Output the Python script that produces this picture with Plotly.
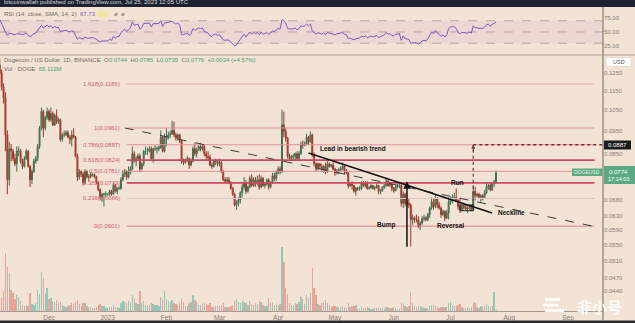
import math
import pandas as pd
import plotly.graph_objects as go

# ---------------- data (prices in units of 0.0001 USD) ----------------
START = "2022-11-05"
OPEN = [
    1300,1250,1170,1110,930,750,870,860,830,810,860,860,820,800,830,860,800,750,780,820,830,880,960,1040,960,1010,
    1040,1000,1030,975,1020,990,1000,910,930,930,940,920,910,930,920,840,760,780,770,740,780,760,760,770,770,760,740,715,690,700,700,
    700,700,710,700,730,710,720,720,750,770,780,760,780,790,850,820,830,840,790,810,860,860,860,870,830,870,870,870,875,920,860,
    910,920,930,935,950,930,915,930,905,820,815,825,830,805,820,870,850,865,880,870,880,850,840,835,805,800,820,820,
    810,815,780,750,745,750,740,720,700,665,670,680,705,725,740,710,725,755,730,750,740,750,725,755,730,735,750,725,740,765,755,
    775,790,780,975,945,915,840,830,835,840,850,830,850,890,885,890,920,900,930,845,810,790,810,800,790,800,780,810,800,805,
    790,775,785,785,790,800,780,775,730,735,730,710,720,718,720,740,730,740,720,722,730,720,722,730,710,712,722,730,745,730,735,
    720,712,725,728,730,670,700,670,670,665,620,625,620,620,600,610,622,625,620,635,655,675,660,685,665,655,635,645,625,640,
    675,685,690,690,680,660,650,660,658,652,655,660,650,710,695,700,690,695,690,705,725,730,715,735,744,
]
HIGH = [
    1340,1270,1190,1140,950,900,890,870,850,880,880,870,830,840,870,865,805,790,830,840,890,970,1060,1050,1020,1060,
    1050,1060,1040,1030,1050,1010,1005,940,950,950,950,930,950,960,925,850,790,785,780,790,785,770,780,775,772,765,745,720,705,705,710,
    705,715,715,740,735,725,728,760,785,790,785,800,800,880,860,840,850,850,815,865,880,875,880,880,875,885,880,885,950,925,935,
    960,945,950,995,990,940,935,935,910,830,830,840,835,830,880,895,875,885,895,890,890,860,860,845,815,825,830,825,
    830,820,785,760,760,760,745,725,705,680,690,710,735,760,750,730,765,770,760,760,765,770,765,760,740,755,755,745,775,775,785,
    800,800,1050,1040,960,920,850,845,850,855,860,860,900,905,900,935,925,945,935,855,815,815,812,810,805,815,820,815,810,815,
    795,790,795,800,815,805,790,778,740,745,732,725,725,728,745,745,745,745,728,735,732,728,740,732,718,728,735,755,750,740,738,
    725,730,735,740,735,710,705,680,685,670,635,630,635,630,615,630,635,630,640,660,690,685,700,690,675,660,650,648,650,690,
    690,700,705,720,682,685,665,665,665,662,665,665,730,725,705,705,700,700,715,740,735,740,740,750,785,
]
LOW = [
    1240,1150,1080,860,700,730,820,820,800,780,840,810,790,795,825,795,725,735,775,810,820,870,950,920,950,1000,
    990,990,970,970,980,980,900,900,920,925,915,890,880,915,835,745,750,760,730,735,755,745,755,762,755,735,710,680,675,660,690,
    695,695,695,700,705,700,715,715,745,760,750,755,770,785,815,800,825,780,785,800,845,845,855,825,815,860,850,860,870,855,855,
    880,910,915,930,920,905,905,895,810,805,810,815,790,800,815,840,835,860,860,860,840,820,825,800,790,795,805,800,
    800,775,745,740,740,735,715,695,660,650,660,670,690,715,700,705,720,725,725,725,730,715,720,725,720,730,715,720,735,745,745,
    770,770,775,920,900,830,820,825,820,825,825,820,845,870,880,885,885,895,835,800,780,785,790,780,775,770,775,795,795,785,
    765,770,770,780,785,770,770,720,725,715,705,695,712,712,715,725,722,715,715,718,715,712,720,700,700,708,718,725,725,725,710,
    705,710,720,720,660,655,660,660,655,545,605,610,612,595,590,605,615,615,615,625,650,650,655,655,650,625,630,615,622,620,
    665,670,680,675,650,640,645,650,648,640,650,645,645,680,690,685,675,680,688,700,715,710,712,725,735,
]
CLOSE = [
    1250,1170,1110,930,750,870,860,830,810,860,860,820,800,830,860,800,750,780,820,830,880,960,1040,960,1010,1040,
    1000,1030,975,1020,990,1000,910,930,930,940,920,910,930,920,840,760,780,770,740,780,760,760,770,770,760,740,715,690,700,700,700,
    700,710,700,730,710,720,720,750,770,780,760,780,790,850,820,830,840,790,810,860,860,860,870,830,870,870,870,875,920,860,910,
    920,930,935,950,930,915,930,905,820,815,825,830,805,820,870,850,865,880,870,880,850,840,835,805,800,820,820,810,
    815,780,750,745,750,740,720,700,665,670,680,705,725,740,710,725,755,730,750,740,750,725,755,730,735,750,725,740,765,755,775,
    790,780,975,945,915,840,830,835,840,850,830,850,890,885,890,920,900,930,845,810,790,810,800,790,800,780,810,800,805,790,
    775,785,785,790,800,780,775,730,735,730,710,720,718,720,740,730,740,720,722,730,720,722,730,710,712,722,730,745,730,735,720,
    712,725,728,730,670,700,670,670,665,620,625,620,620,600,610,622,625,620,635,655,675,660,685,665,655,635,645,625,640,675,
    685,690,690,680,660,650,660,658,652,655,660,650,710,695,700,690,695,690,705,725,730,715,735,744,776,
]
VOLUME_M = [
    1400,1300,2000,5800,4400,3800,2100,1800,1200,1600,1400,1000,600,500,600,500,1800,700,600,800,2100,1700,3900,3300,1800,2300,
    1200,1300,1000,900,1100,800,900,600,500,400,500,600,800,700,900,1100,700,500,800,800,500,400,400,300,300,400,600,700,500,500,300,
    300,400,400,600,400,400,300,800,1000,900,800,1000,900,1600,1200,800,700,2000,800,1000,600,500,600,800,700,600,600,500,1400,1200,2000,
    1200,1000,900,1100,800,700,600,800,1300,900,500,500,800,900,1600,1100,900,600,600,700,800,700,600,800,400,400,500,500,
    500,600,800,400,400,400,500,600,1000,1200,900,800,1000,900,800,600,1000,700,600,800,700,1000,900,600,500,500,1300,800,900,600,700,
    600,700,6400,4900,2300,1700,800,600,600,800,700,900,1400,1200,700,1600,1300,1800,4300,2300,1600,700,600,800,900,1100,800,600,400,500,
    500,400,400,400,500,400,300,800,400,500,500,600,200,200,400,300,300,400,300,200,200,300,300,400,300,300,200,400,400,300,300,
    400,300,200,200,800,700,500,400,500,1900,800,500,400,500,500,400,300,300,300,500,600,600,500,400,300,400,400,400,400,800,
    900,600,500,500,600,700,400,300,300,400,300,400,900,800,400,300,500,400,500,700,500,400,500,1900,65.112,
]
RSI = [
    72,64,58,50,44,48,47,46,45,47,47,46,45,46,48,45,41,44,47,48,52,57,62,57,60,62,
    59,61,57,60,58,58,51,52,52,53,51,50,52,51,44,37,40,39,37,41,39,39,40,40,39,37,34,32,34,34,34,
    34,37,35,42,39,42,42,49,53,55,51,55,57,68,62,63,64,55,58,65,65,65,66,59,65,65,65,65,70,60,66,
    67,68,68,69,66,64,66,62,46,45,47,48,44,47,56,53,55,57,56,57,51,49,48,43,42,46,46,44,
    45,40,36,35,36,35,32,29,25,27,31,37,42,46,41,45,50,46,49,47,49,45,50,46,47,49,46,48,52,51,54,
    56,55,72,70,66,56,55,55,56,57,54,56,61,60,61,64,61,64,52,48,46,49,48,46,48,45,49,48,48,47,
    45,47,47,48,49,46,45,38,39,38,36,38,38,39,43,41,43,40,41,43,41,42,44,40,41,43,45,49,46,47,44,
    43,46,47,47,35,43,38,38,37,30,31,31,31,28,31,34,35,34,38,44,50,47,53,48,46,42,45,41,45,56,
    59,60,59,56,49,47,49,49,48,48,50,48,61,57,58,56,57,56,59,63,64,60,64,65,67.73,
]
N = len(CLOSE)
assert len(OPEN) == N and len(HIGH) == N and len(LOW) == N and len(VOLUME_M) == N and len(RSI) == N

MONTH_TICKS = ["2022-12-01", "2023-01-01", "2023-02-01", "2023-03-01", "2023-04-01",
               "2023-05-01", "2023-06-01", "2023-07-01", "2023-08-01", "2023-09-01"]
MONTH_LABELS = ["Dec", "2023", "Feb", "Mar", "Apr", "May", "Jun", "Jul", "Aug", "Sep"]
PRICE_TICKS = [0.1250, 0.1150, 0.1050, 0.0950, 0.0850, 0.0680, 0.0630, 0.0590,
               0.0550, 0.0510, 0.0470, 0.0440]
RSI_TICKS = [25, 50, 75]

FIB_RATIOS = ["1.618", "1", "0.786", "0.618", "0.5", "0.382", "0.236", "0"]
FIB_PRICES = [0.1186, 0.0961, 0.0887, 0.0824, 0.0781, 0.0739, 0.0686, 0.0601]

# ---------------- geometry helpers ----------------
W, H = 635, 323
PW = 603  # plot width (right axis strip = 32 px)


def px(x):
    return x / PW


def py(y):
    return 1 - y / H


FONT = "Liberation Sans, Arial, sans-serif"
BG = "#f3e3d4"
GRAY = "#6f6a66"
GREEN = "#3f9f7c"

dates = pd.date_range(START, periods=N, freq="D")
o = [v / 1e4 for v in OPEN]
h = [v / 1e4 for v in HIGH]
l = [v / 1e4 for v in LOW]
c = [v / 1e4 for v in CLOSE]
vol_colors = ["rgba(38,166,154,0.45)" if cc >= oo else "rgba(239,83,80,0.45)" for oo, cc in zip(o, c)]

fig = go.Figure()
fig.add_trace(go.Bar(x=dates, y=VOLUME_M, marker=dict(color=vol_colors, line=dict(width=0)),
                     width=0.72 * 86400000, xaxis="x", yaxis="y", showlegend=False, hoverinfo="skip"))
fig.add_trace(go.Candlestick(x=dates, open=o, high=h, low=l, close=c, xaxis="x", yaxis="y3",
                             increasing=dict(line=dict(color="#3d6f4d", width=1), fillcolor="#5c9e70"),
                             decreasing=dict(line=dict(color="#a0352c", width=1), fillcolor="#c94b40"),
                             whiskerwidth=0, showlegend=False))
fig.add_trace(go.Scatter(x=dates, y=RSI, xaxis="x", yaxis="y2", mode="lines",
                         line=dict(color="#7e57c2", width=1), showlegend=False))

X0, X1 = "2022-11-05 03:00", "2023-09-19 12:00"
shapes = []
ann = []


def ptext(x, y, text, font, xanchor="center"):
    ann.append(dict(xref="paper", yref="paper", x=px(x), y=py(y), xanchor=xanchor, yanchor="middle",
                    text=text, showarrow=False, font=font))


# frame / panes
shapes.append(dict(type="rect", xref="paper", yref="paper", x0=0, x1=W / PW, y0=py(7), y1=1.0,
                   fillcolor="#1e2130", line=dict(width=0), layer="above"))
shapes.append(dict(type="rect", xref="paper", yref="paper", x0=0, x1=W / PW, y0=0, y1=py(320.5),
                   fillcolor="#2a2a2e", line=dict(width=0), layer="above"))
shapes.append(dict(type="line", xref="paper", yref="paper", x0=1, x1=1, y0=py(320), y1=py(7),
                   line=dict(color="#6e6660", width=1)))
shapes.append(dict(type="line", xref="paper", yref="paper", x0=0, x1=W / PW, y0=py(55), y1=py(55),
                   line=dict(color="#a49a92", width=1)))

# RSI band and levels
shapes.append(dict(type="rect", xref="paper", yref="y2", x0=0, x1=1, y0=30, y1=70,
                   fillcolor="rgba(150,110,200,0.09)", line=dict(width=0), layer="below"))
for lvl in (70, 50, 30):
    shapes.append(dict(type="line", xref="paper", yref="y2", x0=0, x1=1, y0=lvl, y1=lvl,
                       line=dict(color="#a8999f", width=0.8, dash="dash"), layer="below"))

# Fibonacci levels
FIB_X0, FIB_X1 = "2023-01-11", "2023-09-15"
fib_styles = [("#eaa6ae", 1), ("#e3909b", 1), ("#e3909b", 1), ("#c94a62", 1.6),
              ("#e3909b", 1), ("#c94a62", 1.6), ("#dac4c1", 1), ("#e0808c", 1)]
for ratio, price, (col, wd) in zip(FIB_RATIOS, FIB_PRICES, fib_styles):
    shapes.append(dict(type="line", xref="x", yref="y3", x0=FIB_X0, x1=FIB_X1, y0=price, y1=price,
                       line=dict(color=col, width=wd)))
    ann.append(dict(xref="x", yref="y3", x=FIB_X0, y=math.log10(price), xanchor="right", yanchor="middle",
                    xshift=-5, text=f"{ratio}({price:.4f})", showarrow=False,
                    font=dict(size=6, color="#d4606f", family=FONT)))

# trend lines
shapes.append(dict(type="line", xref="x", yref="y3", x0="2023-01-10", y0=0.0961, x1="2023-09-14", y1=0.0601,
                   line=dict(color="#3a3a3a", width=1, dash="dash")))
shapes.append(dict(type="line", xref="x", yref="y3", x0="2023-04-17", y0=0.0853, x1="2023-07-23", y1=0.0640,
                   line=dict(color="#111111", width=1.5)))
# run projection
shapes.append(dict(type="line", xref="x", yref="y3", x0="2023-07-13", y0=0.0659, x1="2023-07-13", y1=0.0887,
                   line=dict(color="#6a3a3c", width=1.2, dash="dot")))
shapes.append(dict(type="line", xref="x", yref="y3", x0="2023-07-13", y0=0.0887, x1=X1, y1=0.0887,
                   line=dict(color="#7a2f38", width=1.3, dash="dot")))
shapes.append(dict(type="rect", xref="x", yref="y3", x0="2023-07-06", x1="2023-07-13", y0=0.0647, y1=0.0665,
                   line=dict(color="#222222", width=1)))

# arrows
ann.append(dict(xref="x", yref="y3", x="2023-06-08", y=math.log10(0.0745), ax=0, ay=67, text="",
                showarrow=True, arrowhead=2, arrowsize=1, arrowwidth=1.5, arrowcolor="#111111"))
ann.append(dict(xref="x", yref="y3", x="2023-07-13", y=math.log10(0.0887), ax=0, ay=8, text="",
                showarrow=True, arrowhead=2, arrowsize=0.8, arrowwidth=1, arrowcolor="#6a3a3c"))

bold = dict(size=6.5, color="#111111", family=FONT)
for txt, xd, yv, anchor in [("<b>Lead in bearish trend</b>", "2023-04-22", 0.0873, "left"),
                            ("<b>Run</b>", "2023-07-04 12:00", 0.0740, "center"),
                            ("<b>Neckline</b>", "2023-07-25", 0.0640, "left"),
                            ("<b>Reversal</b>", "2023-07-01", 0.0603, "center"),
                            ("<b>Bump</b>", "2023-05-28", 0.0603, "center")]:
    ann.append(dict(xref="x", yref="y3", x=xd, y=math.log10(yv), xanchor=anchor, yanchor="middle",
                    text=txt, showarrow=False, font=bold))

# legends / header texts
small = dict(size=6, color=GRAY, family=FONT)
ptext(2, 2, "bitcoinwallah published on TradingView.com, Jul 25, 2023 12:05 UTC",
      dict(size=6, color="#d8d8d8", family=FONT), "left")
ptext(2, 14, "RSI (14, close, SMA, 14, 2)  <span style='color:#7e57c2'>67.73</span>", small, "left")
shapes.append(dict(type="rect", xref="paper", yref="paper", x0=px(97), x1=px(108), y0=py(17), y1=py(11.5),
                   fillcolor="#f2e49c", line=dict(width=0)))
ptext(112, 14, "ø  ø", small, "left")
g = lambda s: f"<span style='color:{GREEN}'>{s}</span>"
ptext(2, 60.5, ("Dogecoin / US Dollar, 1D, BINANCE  O" + g("0.0744") + "  H" + g("0.0785") + "  L" +
                g("0.0735") + "  C" + g("0.0776") + "  " + g("+0.0034 (+4.57%)")), small, "left")
ptext(2, 68.5, "Vol · DOGE  " + g("65.112M"), small, "left")

# right price-scale labels
shapes.append(dict(type="rect", xref="paper", yref="paper", x0=px(606), x1=px(631), y0=py(66.5), y1=py(57.5),
                   fillcolor="#ffffff", line=dict(color="#d0c8c0", width=0.5)))
ptext(618.5, 62, "USD", dict(size=5.5, color="#555555", family=FONT))
shapes.append(dict(type="rect", xref="paper", yref="paper", x0=px(604), x1=px(631), y0=py(149.5), y1=py(140.5),
                   fillcolor="#1b1b1b", line=dict(width=0)))
ptext(617.5, 145, "0.0887", dict(size=6, color="#ffffff", family=FONT))
shapes.append(dict(type="rect", xref="paper", yref="paper", x0=px(604), x1=W / PW, y0=py(184), y1=py(166),
                   fillcolor="#5caa84", line=dict(width=0)))
ptext(618, 171.5, "0.0774", dict(size=6, color="#ffffff", family=FONT))
ptext(618, 179, "17:14:03", dict(size=5.5, color="#ffffff", family=FONT))
shapes.append(dict(type="rect", xref="paper", yref="paper", x0=px(572), x1=px(602.5), y0=py(176), y1=py(168.5),
                   fillcolor="#5caa84", line=dict(width=0)))
ptext(587, 172.3, "DOGEUSD", dict(size=5, color="#e8f5ee", family=FONT))

# watermark
for (a, b, yy) in [(545, 560, 298), (543, 558, 303.5), (545, 564, 309)]:
    shapes.append(dict(type="rect", xref="paper", yref="paper", x0=px(a), x1=px(b), y0=py(yy + 3), y1=py(yy),
                       fillcolor="rgba(255,255,255,0.92)", line=dict(width=0)))
ptext(599, 306.5, "<b>非小号</b>", dict(size=15, color="rgba(255,255,255,0.93)", family="Noto Sans CJK SC"))

axis_font = dict(size=6, color="#857d78", family=FONT)
fig.update_layout(
    width=W, height=H, margin=dict(l=0, r=W - PW, t=0, b=0),
    paper_bgcolor=BG, plot_bgcolor=BG, showlegend=False, bargap=0,
    xaxis=dict(type="date", range=[X0, X1], domain=[0, 1], anchor="y", tickvals=MONTH_TICKS,
               ticktext=MONTH_LABELS, tickfont=dict(size=6.5, color="#857d78", family=FONT),
               showgrid=False, zeroline=False, showline=True, linecolor="#a59b93", linewidth=1,
               ticks="", rangeslider=dict(visible=False), fixedrange=True),
    yaxis=dict(domain=[py(311), py(56)], range=[0, 25500], visible=False, fixedrange=True),
    yaxis3=dict(overlaying="y", anchor="x", side="right", type="log",
                range=[math.log10(0.040038), math.log10(0.13563)],
                tickvals=PRICE_TICKS, ticktext=[f"{v:.4f}" for v in PRICE_TICKS], tickfont=axis_font,
                showgrid=False, zeroline=False, showline=False, ticks="", fixedrange=True),
    yaxis2=dict(domain=[py(54), py(7)], anchor="x", side="right", range=[10.7, 94.6],
                tickvals=RSI_TICKS, ticktext=[f"{v:.2f}" for v in RSI_TICKS], tickfont=axis_font,
                showgrid=False, zeroline=False, showline=False, ticks="", fixedrange=True),
    shapes=shapes, annotations=ann,
)

fig.write_html("out.html")
